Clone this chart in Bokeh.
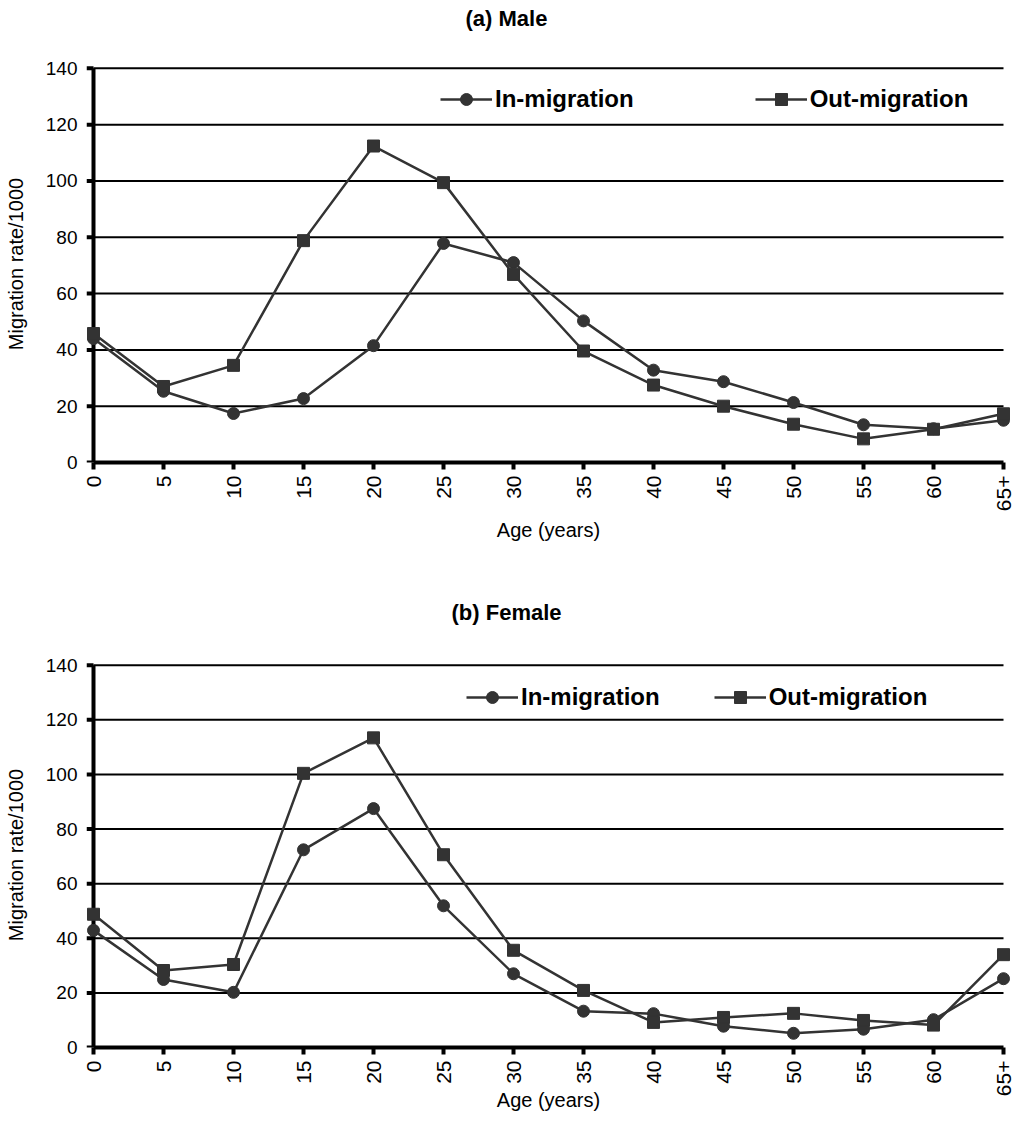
import math

from bokeh.embed import file_html
from bokeh.layouts import column
from bokeh.models import FixedTicker, Legend, LegendItem, Range1d, Title
from bokeh.plotting import figure
from bokeh.resources import INLINE

# Age groups (years) and migration rates per 1000
ages = ["0", "5", "10", "15", "20", "25", "30", "35", "40", "45", "50", "55", "60", "65+"]
male_in = [44.0, 25.3, 17.4, 22.7, 41.5, 77.8, 71.0, 50.3, 32.8, 28.7, 21.3, 13.4, 12.0, 15.0]
male_out = [45.8, 27.0, 34.5, 78.8, 112.4, 99.4, 66.8, 39.6, 27.5, 20.0, 13.6, 8.4, 11.8, 17.3]
female_in = [42.9, 24.9, 20.2, 72.4, 87.5, 51.9, 27.0, 13.3, 12.4, 7.8, 5.2, 6.7, 10.2, 25.2]
female_out = [48.8, 28.2, 30.4, 100.4, 113.4, 70.6, 35.6, 20.9, 9.2, 11.0, 12.5, 9.9, 8.2, 34.0]
rate_ticks = [0, 20, 40, 60, 80, 100, 120, 140]

FONT = "Liberation Sans"
INK = "#333333"
PAD = 0.1  # room on each side so the end markers are not cut off


def panel(title, rates_in, rates_out, height, border_bottom, title_offset,
          title_gap, legend_loc, legend_spacing, label_standoff):
    xs = list(range(len(ages)))
    p = figure(width=1014, height=height, output_backend="svg", toolbar_location=None,
               x_range=Range1d(xs[0] - PAD, xs[-1] + PAD),
               y_range=Range1d(0, rate_ticks[-1] + 1),
               min_border_left=86, min_border_right=4,
               min_border_top=65, min_border_bottom=border_bottom)
    p.outline_line_color = None
    p.xgrid.visible = False
    p.ygrid.visible = False

    # empty band between the plot and its heading, then the heading itself
    p.add_layout(Title(text=" ", text_font_size="1px", standoff=title_gap), "above")
    p.add_layout(Title(text=title, align="left", offset=title_offset,
                       text_color="black", text_font=FONT, text_font_size="22px",
                       text_font_style="bold", standoff=0), "above")

    # horizontal rules between the first and last age group
    rules = rate_ticks[1:]
    p.segment(x0=[xs[0]] * len(rules), x1=[xs[-1]] * len(rules),
              y0=rules, y1=rules, line_color="black", line_width=2)

    # vertical axis line drawn at the first age group, with outward ticks
    p.segment(x0=[xs[0]], x1=[xs[0]], y0=[rate_ticks[0]], y1=[rate_ticks[-1]],
              line_color="black", line_width=4)
    p.segment(x0=[xs[0] - PAD] * len(rate_ticks), x1=[xs[0]] * len(rate_ticks),
              y0=rate_ticks, y1=rate_ticks, line_color="black", line_width=4)

    l_in = p.line(xs, rates_in, line_color=INK, line_width=2.5)
    m_in = p.scatter(xs, rates_in, marker="circle", size=12,
                     fill_color=INK, line_color=INK)
    l_out = p.line(xs, rates_out, line_color=INK, line_width=2.5)
    m_out = p.scatter(xs, rates_out, marker="square", size=12,
                      fill_color=INK, line_color=INK)

    # axes
    xa, ya = p.xaxis[0], p.yaxis[0]
    xa.ticker = FixedTicker(ticks=xs)
    xa.major_label_overrides = {i: a for i, a in enumerate(ages)}
    xa.major_label_orientation = math.pi / 2
    xa.bounds = (xs[0], xs[-1])
    xa.axis_label = "Age (years)"
    xa.axis_label_standoff = label_standoff
    xa.axis_line_width = 4
    xa.axis_line_color = "black"
    xa.major_tick_line_width = 4
    xa.major_tick_line_color = "black"
    xa.major_tick_out = 7
    xa.major_tick_in = 0
    xa.major_label_text_font_size = "21px"
    xa.major_label_standoff = 6

    ya.ticker = FixedTicker(ticks=rate_ticks)
    ya.axis_line_color = None
    ya.major_tick_line_color = None
    ya.major_tick_out = 0
    ya.major_tick_in = 0
    ya.major_label_text_font_size = "19px"
    ya.major_label_standoff = 9
    ya.axis_label = "Migration rate/1000"
    ya.axis_label_standoff = 16

    for ax in (xa, ya):
        ax.minor_tick_line_color = None
        ax.major_label_text_font = FONT
        ax.major_label_text_color = "black"
        ax.axis_label_text_font = FONT
        ax.axis_label_text_font_size = "20px"
        ax.axis_label_text_font_style = "normal"
        ax.axis_label_text_color = "black"

    legend = Legend(items=[LegendItem(label="In-migration", renderers=[l_in, m_in]),
                           LegendItem(label="Out-migration", renderers=[l_out, m_out])],
                    orientation="horizontal", location=legend_loc,
                    border_line_color=None, background_fill_alpha=0,
                    label_text_font=FONT, label_text_font_style="bold",
                    label_text_font_size="24px", label_text_color="black",
                    glyph_width=52, glyph_height=30,
                    label_standoff=3, spacing=legend_spacing, padding=0, margin=0)
    p.add_layout(legend)
    return p


male = panel("(a) Male", male_in, male_out, 597, 135, 379, 32,
             (354, 348), 121, 5)
female = panel("(b) Female", female_in, female_out, 547, 97, 365, 35,
               (380, 335), 54, -10)

layout = column(male, female, spacing=0)
open("out.html", "w").write(file_html(layout, INLINE))
